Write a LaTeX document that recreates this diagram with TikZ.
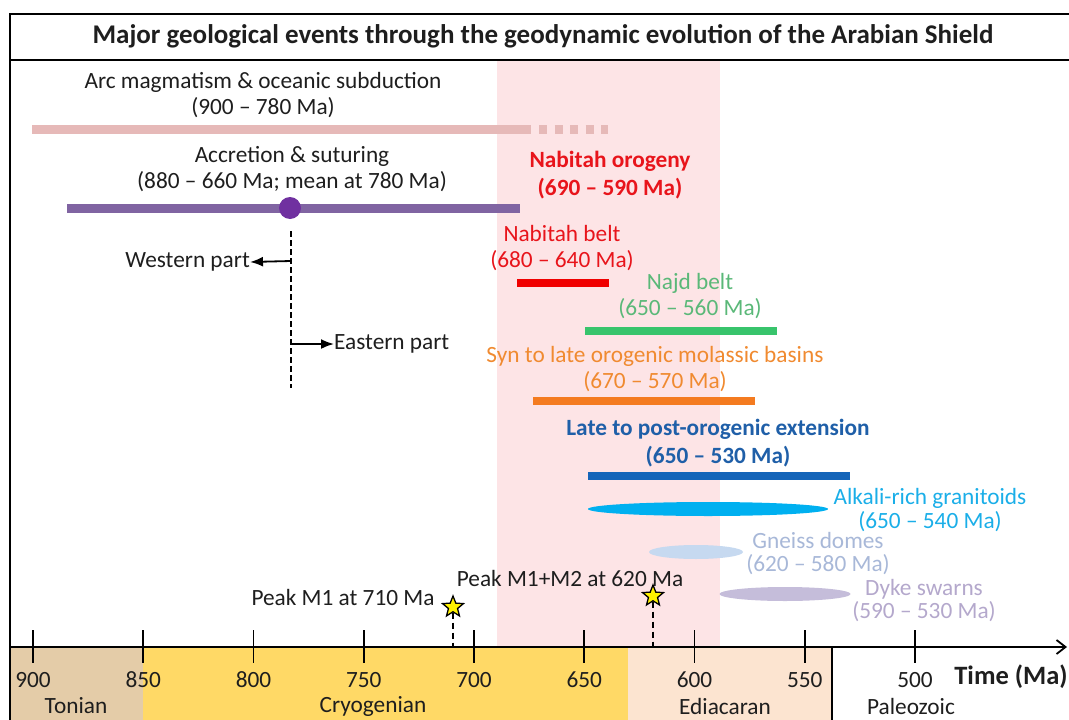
\documentclass[tikz,border=0pt]{standalone}
\usepackage{fontspec}
\setmainfont{Carlito}
\usetikzlibrary{shapes.geometric,arrows.meta}
\definecolor{tonian}{RGB}{228,204,168}
\definecolor{cryo}{RGB}{255,217,102}
\definecolor{edia}{RGB}{252,228,208}
\definecolor{pinkband}{RGB}{253,228,230}
\definecolor{arcbar}{RGB}{230,185,184}
\definecolor{purplebar}{RGB}{128,100,162}
\definecolor{purpledot}{RGB}{112,48,160}
\definecolor{redtxt}{RGB}{232,20,27}
\definecolor{redbar}{RGB}{240,0,0}
\definecolor{greentxt}{RGB}{90,184,120}
\definecolor{greenbar}{RGB}{56,196,108}
\definecolor{orangetxt}{RGB}{240,138,48}
\definecolor{orangebar}{RGB}{244,123,32}
\definecolor{bluetxt}{RGB}{31,95,168}
\definecolor{bluebar}{RGB}{21,101,185}
\definecolor{alkali}{RGB}{0,176,240}
\definecolor{alkalitxt}{RGB}{26,174,232}
\definecolor{gneiss}{RGB}{198,217,240}
\definecolor{gneisstxt}{RGB}{168,184,216}
\definecolor{dyke}{RGB}{197,189,218}
\definecolor{dyketxt}{RGB}{180,168,204}
\definecolor{txt}{RGB}{30,30,30}
\tikzset{
  lbl/.style={align=center, inner sep=0pt, text=txt, font=\fontsize{23.3}{26.5}\selectfont},
  bar/.style={line width=9pt},
  blob/.style={ellipse, minimum height=14pt, inner sep=0pt},
  vdash/.style={line width=1.8pt, dash pattern=on 6pt off 3pt},
  sdash/.style={line width=2.4pt, dash pattern=on 6pt off 4pt},
  ptr/.style={line width=1.8pt, -{Latex[length=13pt,width=10pt]}},
  tick/.style={line width=1.8pt},
  starmark/.style={star, star points=5, star point ratio=2.3, minimum size=22pt, inner sep=0pt, fill=yellow, draw=black, line width=1.3pt},
  period/.style={inner sep=0pt, text=txt, font=\fontsize{23.3}{26}\selectfont}
}
\begin{document}
\begin{tikzpicture}[x=1pt,y=-1pt]
\useasboundingbox (0,0) rectangle (1069,720);
% background bands
\fill[pinkband] (497,61) rectangle (720,647);
\fill[tonian] (10,647) rectangle (143,720);
\fill[cryo] (143,647) rectangle (628,720);
\fill[edia] (628,647) rectangle (832,720);
\draw[line width=1.5pt] (832,647) -- (832,720);
% frame and title
\draw[line width=1.5pt] (1075,14) -- (10,14) -- (10,720);
\draw[line width=1.5pt] (10,60) -- (1075,60);
\node[inner sep=0pt, text=txt, font=\fontsize{27}{30}\selectfont\bfseries] (title) at (543,36) {Major geological events through the geodynamic evolution of the Arabian Shield};
% arc magmatism
\node[lbl] (arc) at (263,95) {Arc magmatism \& oceanic subduction\\(900 -- 780 Ma)};
\coordinate (arcA) at (32,129);
\coordinate (arcB) at (531,129);
\coordinate (arcC) at (608,129);
\draw[bar, arcbar] (arcA) -- (arcB);
\draw[bar, arcbar, dash pattern=on 8pt off 7.5pt] ([xshift=8pt]arcB) -- (arcC);
% accretion
\node[lbl] (acc) at (292,169) {Accretion \& suturing\\(880 -- 660 Ma; mean at 780 Ma)};
\coordinate (accA) at (67,208);
\coordinate (accB) at (520,208);
\draw[bar, purplebar] (accA) -- (accB);
\node[circle, fill=purpledot, minimum size=22pt, inner sep=0pt] (mean) at (290,208) {};
\coordinate (vtop) at (291,231);
\coordinate (vbot) at (291,388);
\draw[vdash] (vtop) -- (vbot);
\coordinate (wst) at (291,261);
\coordinate (est) at (291,344);
\node[lbl, anchor=east] (west) at (250,262) {Western part};
\node[lbl, anchor=west] (east) at (334,344) {Eastern part};
\draw[ptr] (wst) -- (west.east);
\draw[ptr] (est) -- (east.west);
% Nabitah orogeny
\node[lbl, text=redtxt, font=\fontsize{23.3}{28}\selectfont\bfseries] (orog) at (610,175) {Nabitah orogeny\\(690 -- 590 Ma)};
% Nabitah belt
\node[lbl, text=redtxt] (nbelt) at (562,248) {Nabitah belt\\(680 -- 640 Ma)};
\coordinate (nbA) at (517,283);
\coordinate (nbB) at (609,283);
\draw[bar, redbar, line width=8.5pt] (nbA) -- (nbB);
% Najd belt
\node[lbl, text=greentxt] (najd) at (690,296) {Najd belt\\(650 -- 560 Ma)};
\coordinate (njA) at (585,331);
\coordinate (njB) at (777,331);
\draw[bar, greenbar, line width=8.5pt] (njA) -- (njB);
% molassic basins
\node[lbl, text=orangetxt] (mol) at (655,369) {Syn to late orogenic molassic basins\\(670 -- 570 Ma)};
\coordinate (moA) at (533,401);
\coordinate (moB) at (755,401);
\draw[bar, orangebar, line width=8.5pt] (moA) -- (moB);
% extension
\node[lbl, text=bluetxt, font=\fontsize{23.3}{28}\selectfont\bfseries] (ext) at (718,443) {Late to post-orogenic extension\\(650 -- 530 Ma)};
\coordinate (exA) at (588,476);
\coordinate (exB) at (850,476);
\draw[bar, bluebar, line width=8.5pt] (exA) -- (exB);
% alkali-rich granitoids
\node[blob, fill=alkali, minimum width=240pt] (alk) at (708,509) {};
\node[lbl, text=alkalitxt, font=\fontsize{23.3}{24}\selectfont] (alkt) at (930,510) {Alkali-rich granitoids\\(650 -- 540 Ma)};
% gneiss domes
\node[blob, fill=gneiss, minimum width=94pt] (gne) at (696,552) {};
\node[lbl, text=gneisstxt, font=\fontsize{23.3}{23}\selectfont] (gnet) at (818,554) {Gneiss domes\\(620 -- 580 Ma)};
% dyke swarms
\node[blob, fill=dyke, minimum width=131pt] (dyk) at (785,594) {};
\node[lbl, text=dyketxt, font=\fontsize{23.3}{23}\selectfont] (dykt) at (924,601) {Dyke swarns\\(590 -- 530 Ma)};
% axis
\coordinate (axL) at (10,647);
\coordinate (axR) at (1067,647);
\draw[line width=1.8pt, -{Straight Barb[length=9pt,width=14pt]}] (axL) -- (axR);
\foreach \x/\t in {33/900,143.25/850,253.5/800,363.75/750,474/700,584.25/650,694.5/600,804.75/550,915/500}{
  \draw[tick] (\x,630) -- (\x,663);
  \node[period] (n\t) at (\x,680) {\t};
}
\node[inner sep=0pt, text=txt, font=\fontsize{26.5}{28}\selectfont\bfseries] (time) at (1011,677) {Time (Ma)};
\node[period] (ton) at (76,706) {Tonian};
\node[period] (cry) at (373,706) {Cryogenian};
\node[period] (edi) at (725,706) {Ediacaran};
\node[period] (pal) at (911,706) {Paleozoic};
% peaks
\node[starmark] (s1) at (453,607) {};
\coordinate (s1b) at (453,647);
\draw[sdash] (s1.south) -- (s1b);
\node[lbl] (p1) at (343,597) {Peak M1 at 710 Ma};
\node[starmark] (s2) at (653,596) {};
\coordinate (s2b) at (653,647);
\draw[sdash] (s2.south) -- (s2b);
\node[lbl] (p2) at (570,578) {Peak M1+M2 at 620 Ma};
\end{tikzpicture}
\end{document}
